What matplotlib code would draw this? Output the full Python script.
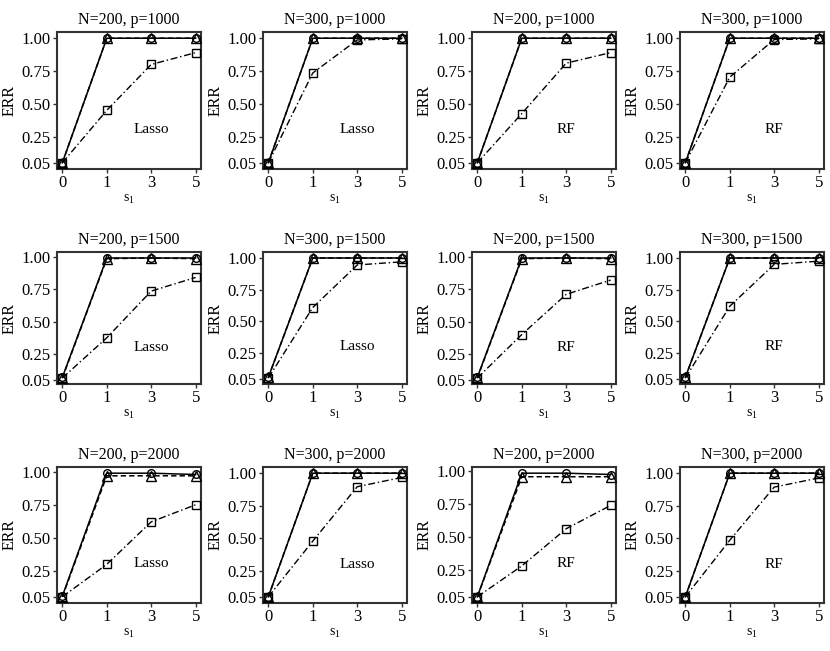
import matplotlib
matplotlib.use("Agg")
import matplotlib.pyplot as plt

plt.rcParams['font.family'] = ['Liberation Serif', 'DejaVu Serif']
plt.rcParams['mathtext.fontset'] = 'custom'
plt.rcParams['mathtext.rm'] = 'Liberation Serif'
plt.rcParams['mathtext.it'] = 'Liberation Serif'

s1_labels = ["0", "1", "3", "5"]
row_N = [200, 300, 200, 300]
row_p = [1000, 1500, 2000]
col_method = ["Lasso", "Lasso", "RF", "RF"]

# series: circle (solid), triangle (dashed), square (dash-dot)
circle = [
    [[0.05, 1.00, 1.00, 1.00], [0.05, 1.00, 1.00, 1.00], [0.05, 1.00, 1.00, 1.00], [0.05, 1.00, 1.00, 1.00]],
    [[0.07, 0.99, 0.99, 0.99], [0.06, 1.00, 1.00, 1.00], [0.07, 0.99, 0.99, 0.99], [0.06, 1.00, 1.00, 1.00]],
    [[0.055, 0.99, 0.99, 0.98], [0.05, 1.00, 1.00, 1.00], [0.05, 0.987, 0.987, 0.977], [0.05, 1.00, 1.00, 1.00]],
]
triangle = [
    [[0.05, 1.00, 1.00, 1.00], [0.05, 1.00, 1.00, 1.00], [0.05, 1.00, 1.00, 1.00], [0.05, 1.00, 1.00, 1.00]],
    [[0.065, 0.985, 0.99, 0.985], [0.06, 1.00, 1.00, 1.00], [0.065, 0.985, 0.99, 0.985], [0.06, 1.00, 1.00, 1.00]],
    [[0.05, 0.97, 0.97, 0.97], [0.05, 1.00, 1.00, 1.00], [0.05, 0.96, 0.96, 0.96], [0.05, 1.00, 1.00, 1.00]],
]
square = [
    [[0.05, 0.45, 0.80, 0.89], [0.05, 0.735, 0.987, 0.995], [0.05, 0.425, 0.81, 0.89], [0.05, 0.703, 0.99, 0.995]],
    [[0.065, 0.375, 0.735, 0.84], [0.055, 0.61, 0.945, 0.97], [0.065, 0.40, 0.71, 0.82], [0.055, 0.62, 0.95, 0.975]],
    [[0.05, 0.297, 0.62, 0.75], [0.05, 0.478, 0.896, 0.967], [0.05, 0.284, 0.566, 0.743], [0.05, 0.485, 0.893, 0.963]],
]
yticks = [0.05, 0.25, 0.50, 0.75, 1.00]
ytick_labels = ["0.05", "0.25", "0.50", "0.75", "1.00"]

W, H = 830, 651
fig = plt.figure(figsize=(W / 100, H / 100), dpi=100)

col_left = [57, 263, 472, 680]
col_w = 144
row_top = [32, 252, 467]
row_bot = [169, 384, 603]

frame_col = "#333333"
x = list(range(len(s1_labels)))

for r in range(3):
    for c in range(4):
        ax = fig.add_axes([col_left[c] / W, 1 - row_bot[r] / H, col_w / W, (row_bot[r] - row_top[r]) / H])
        ax.plot(x, circle[r][c], color="black", lw=1.1, ls="-", marker="o", ms=5.5,
                mfc="none", mec="black", mew=1.0, zorder=3)
        ax.plot(x, triangle[r][c], color="black", lw=1.1, ls=(0, (3.5, 2)), marker="^", ms=6.5,
                mfc="none", mec="black", mew=1.0, zorder=3)
        ax.plot(x, square[r][c], color="black", lw=1.0, ls=(0, (5, 2, 1, 2)), marker="s", ms=5.5,
                mfc="none", mec="black", mew=1.0, zorder=3)
        ax.margins(x=0.04, y=0.05)
        ax.set_xticks(x)
        ax.set_xticklabels(s1_labels)
        ax.set_yticks(yticks)
        ax.set_yticklabels(ytick_labels)
        ax.tick_params(axis="both", labelsize=12, length=3, width=1.0, color=frame_col, pad=1.5)
        for sp in ax.spines.values():
            sp.set_color(frame_col)
            sp.set_linewidth(1.5)
        ax.set_title(f"N={row_N[c]}, p={row_p[r]}", fontsize=11.5, pad=6)
        ax.set_ylabel("ERR", fontsize=11.5, labelpad=3)
        ax.set_xlabel(r"s$_1$", fontsize=10, labelpad=1)
        ax.text(2.0, 0.30, col_method[c], fontsize=11, ha="center", va="center")

fig.savefig("out.png", dpi=100)
